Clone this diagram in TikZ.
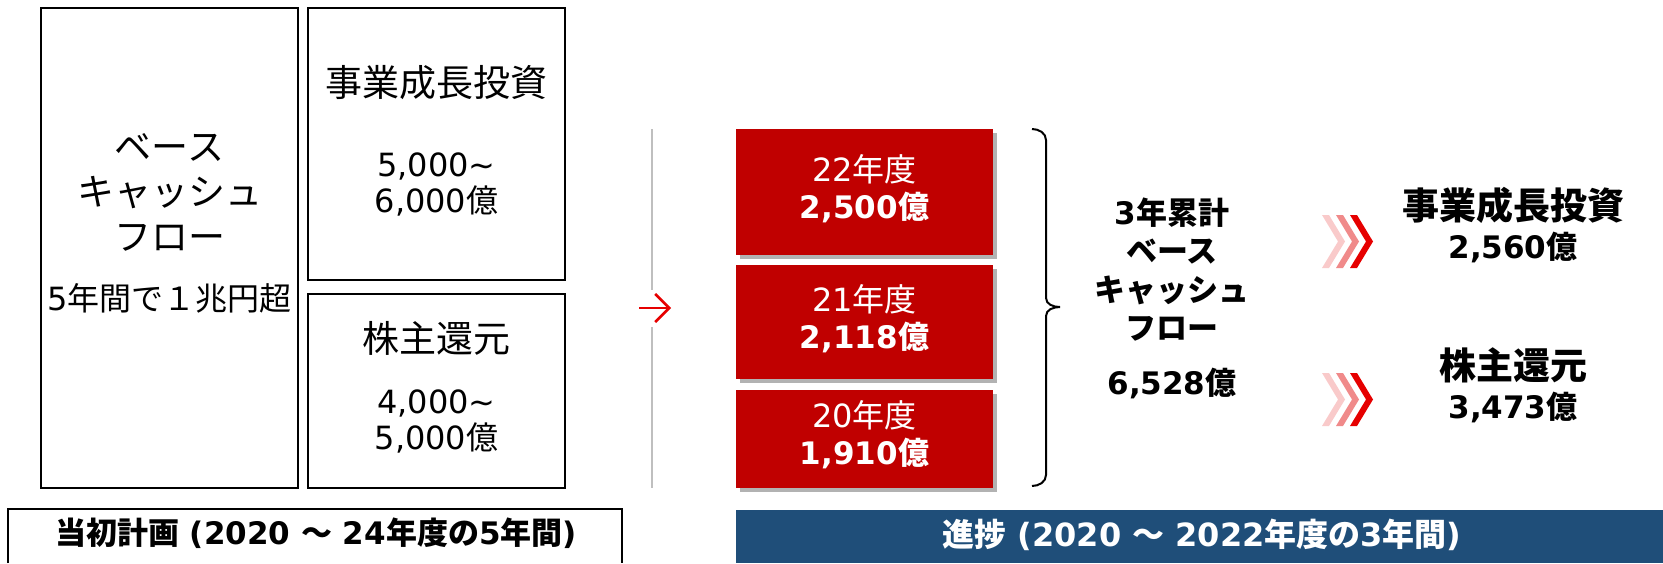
\documentclass[tikz,border=0pt]{standalone}
\usepackage{fontspec}
\setmainfont{Noto Sans CJK JP}
\newfontfamily\dv{DejaVu Sans}
\usetikzlibrary{shadows,arrows.meta}
\definecolor{boxred}{HTML}{C00000}
\definecolor{barblue}{HTML}{1F4E79}
\definecolor{chevA}{HTML}{F9CACA}
\definecolor{chevB}{HTML}{F08A8A}
\definecolor{chevC}{HTML}{E60000}
\definecolor{arrred}{HTML}{E60000}
\definecolor{sepgray}{HTML}{BFBFBF}
\newcommand\dg[1]{{\dv #1}}
\newcommand\fsz[2]{\fontsize{#1}{#2}\selectfont}
\tikzset{
  plainbox/.style={draw=black, line width=2pt, minimum width=257pt, inner sep=0pt},
  redbox/.style={fill=boxred, minimum width=257pt, inner sep=0pt,
    drop shadow={shadow xshift=4pt, shadow yshift=-4pt, opacity=0.3, fill=black}},
  txt/.style={align=center, inner sep=0pt},
  redtxt/.style={txt, text=white, font=\fsz{32}{37}},
  bigtxt/.style={txt, font=\fsz{37}{45}},
  numtxt/.style={txt, font=\fsz{32}{36}},
  midtxt/.style={txt, font=\bfseries\fsz{31}{38.5}},
  labtxt/.style={txt, font=\bfseries\fsz{31}{36}},
}
\begin{document}
\begin{tikzpicture}[x=1pt,y=-1pt]
\useasboundingbox (0,0) rectangle (1663,563);
% ---- initial plan ----
\node[plainbox, minimum height=480pt] (cf) at (169.5,248) {};
\node[plainbox, minimum height=272pt] (inv) at (436.5,144) {};
\node[plainbox, minimum height=194pt] (ret) at (436.5,391) {};
\node[bigtxt] (cfT) at (169.5,192) {ベース\\キャッシュ\\フロー};
\node[txt, font=\fsz{32}{36}] (cfN) at (169.5,298) {\dg{5}年間で１兆円超};
\node[bigtxt] (invT) at (436.5,83) {事業成長投資};
\node[numtxt] (invN) at (436.5,184) {\dg{5,000\textasciitilde}\\\dg{6,000}億};
\node[bigtxt] (retT) at (436.5,338) {株主還元};
\node[numtxt] (retN) at (436.5,421) {\dg{4,000\textasciitilde}\\\dg{5,000}億};
% bottom-left label
\coordinate (lbA) at (8,563);
\coordinate (lbB) at (8,509);
\coordinate (lbC) at (622,509);
\coordinate (lbD) at (622,563);
\draw[line width=2pt] (lbA) -- (lbB) -- (lbC) -- (lbD);
\node[labtxt] (planlab) at (316,533) {当初計画\dg{ (2020 }～\dg{ 24}年度の\dg{5}年間\dg{)}};
% ---- separator and arrow ----
\coordinate (sepT) at (652,129);
\coordinate (sepM1) at (652,290);
\coordinate (sepM2) at (652,327);
\coordinate (sepB) at (652,488);
\draw[sepgray, line width=2pt] (sepT) -- (sepM1);
\draw[sepgray, line width=2pt] (sepM2) -- (sepB);
\coordinate (arrS) at (639,308);
\coordinate (arrE) at (671,308);
\draw[arrred, line width=2.5pt, -{Straight Barb[length=14pt,width=28pt,line width=2.5pt]}] (arrS) -- (arrE);
% ---- yearly boxes ----
\node[redbox, minimum height=126pt] (y22) at (864.5,192) {};
\node[redbox, minimum height=114pt] (y21) at (864.5,322) {};
\node[redbox, minimum height=98pt] (y20) at (864.5,439) {};
\node[redtxt] (y22t) at (864.5,188.5) {\dg{22}年度\\{\bfseries\fsz{31}{37}\dg{2,500}億}};
\node[redtxt] (y21t) at (864.5,318.5) {\dg{21}年度\\{\bfseries\fsz{31}{37}\dg{2,118}億}};
\node[redtxt] (y20t) at (864.5,435) {\dg{20}年度\\{\bfseries\fsz{31}{37}\dg{1,910}億}};
% brace
\coordinate (brT) at (1032,129);
\coordinate (brB) at (1032,486);
\coordinate (brTip) at (1060,307);
\draw[line width=2pt] (brT) to[out=0,in=90] (1046,140) -- (1046,298)
   to[out=-90,in=180] (brTip) to[out=180,in=90] (1046,316) -- (1046,475)
   to[out=-90,in=0] (brB);
% ---- totals ----
\node[midtxt] (tot) at (1172,269.5) {\dg{3}年累計\\ベース\\キャッシュ\\フロー};
\node[midtxt] (totN) at (1172,383) {\dg{6,528}億};
% chevrons
\foreach \cy/\nm in {215/a, 373/b}{
  \coordinate (chv\nm) at (1322,\cy);
  \foreach \dx/\cc in {0/chevA, 14/chevB, 28/chevC}{
    \fill[\cc] ([xshift=\dx pt]chv\nm) -- ++(7,0) -- ++(16,26.5) -- ++(-16,26.5)
       -- ++(-7,0) -- ++(16,-26.5) -- cycle;
  }
}
\node[txt, font=\bfseries\fsz{37}{45}] (rInvT) at (1513,205) {事業成長投資};
\node[txt, font=\bfseries\fsz{31}{38}] (rInvN) at (1513,247) {\dg{2,560}億};
\node[txt, font=\bfseries\fsz{37}{45}] (rRetT) at (1513,365) {株主還元};
\node[txt, font=\bfseries\fsz{31}{38}] (rRetN) at (1513,407) {\dg{3,473}億};
% ---- progress bar ----
\node[fill=barblue, minimum width=927pt, minimum height=53pt, inner sep=0pt] (bar) at (1199.5,536.5) {};
\node[labtxt, text=white, font=\bfseries\fsz{32}{36}] (barlab) at (1202,535) {進捗\dg{ (2020 }～\dg{ 2022}年度の\dg{3}年間\dg{)}};
\end{tikzpicture}
\end{document}
